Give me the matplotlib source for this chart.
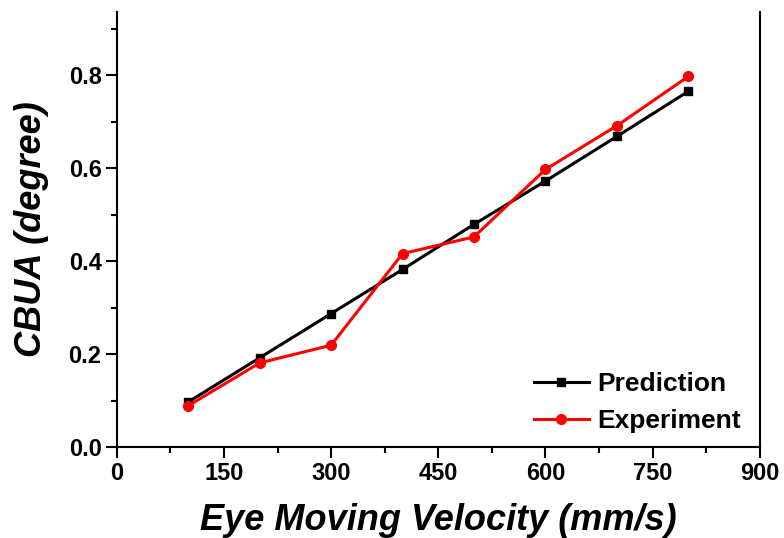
import matplotlib
matplotlib.use("Agg")
import matplotlib.pyplot as plt
from matplotlib.ticker import MultipleLocator

plt.rcParams['font.family'] = ['Liberation Sans', 'DejaVu Sans']

velocity = [100, 200, 300, 400, 500, 600, 700, 800]
prediction = [0.097, 0.192, 0.287, 0.382, 0.479, 0.572, 0.668, 0.765]
experiment = [0.089, 0.181, 0.219, 0.416, 0.452, 0.597, 0.691, 0.797]

fig = plt.figure(figsize=(7.84, 5.38), dpi=100)
ax = fig.add_axes([0.149, 0.169, 0.82, 0.809])

ax.plot(velocity, prediction, color='black', lw=2.2, marker='s', ms=6, label='Prediction')
ax.plot(velocity, experiment, color='red', lw=2.2, marker='o', ms=7, label='Experiment')

ax.set_xlim(0, 900)
ax.set_ylim(0, 0.936)
ax.xaxis.set_major_locator(MultipleLocator(150))
ax.xaxis.set_minor_locator(MultipleLocator(75))
ax.yaxis.set_major_locator(MultipleLocator(0.2))
ax.yaxis.set_minor_locator(MultipleLocator(0.1))

ax.spines['top'].set_visible(False)
for s in ['left', 'bottom', 'right']:
    ax.spines[s].set_linewidth(1.5)

ax.tick_params(which='major', direction='out', length=8, width=1.5, labelsize=17, pad=3,
               top=False, right=False)
ax.tick_params(which='minor', direction='out', length=4, width=1.5, top=False, right=False)
for lbl in ax.get_xticklabels() + ax.get_yticklabels():
    lbl.set_fontweight('bold')

ax.set_xlabel('Eye Moving Velocity (mm/s)', fontsize=26, fontweight='bold', style='italic', labelpad=13)
ax.set_ylabel('CBUA (degree)', fontsize=26, fontweight='bold', style='italic', labelpad=14)

ax.legend(loc='lower right', bbox_to_anchor=(0.995, -0.005), frameon=False,
          prop={'size': 19, 'weight': 'bold'},
          handlelength=2.1, handletextpad=0.3, borderaxespad=0.2, labelspacing=0.5)

fig.savefig('out.png', dpi=100)
